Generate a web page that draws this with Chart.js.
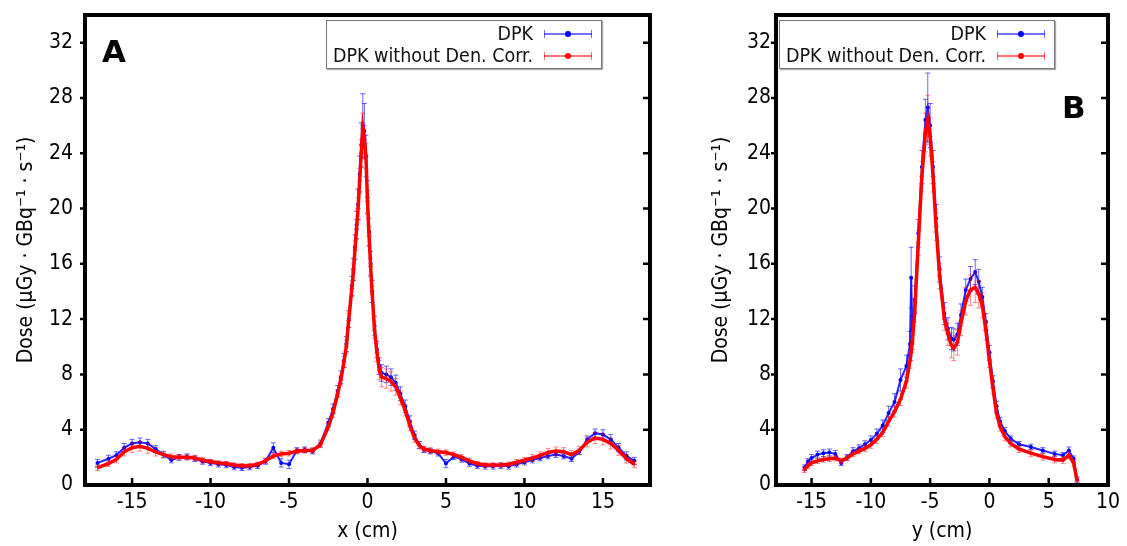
<!DOCTYPE html>
<html>
<head>
<meta charset="utf-8">
<script src="https://cdn.jsdelivr.net/npm/chart.js@4.4.1/dist/chart.umd.min.js"></script>
<style>
  body { margin: 0; background: #fff; }
  #wrap { position: relative; width: 1127px; height: 546px; overflow: hidden;
          font-family: "DejaVu Sans Condensed", "Liberation Sans", sans-serif; }
  canvas { position: absolute; top: 0; }
  .legend { position: absolute; top: 20px; width: 274px; height: 47px; background: #fff;
            border: 1px solid #777; box-shadow: 1px 1px 1px #aaa; font-size: 19.5px; color: #111; }
  .lab { position: absolute; right: 68px; height: 22px; line-height: 22px; white-space: nowrap; }
  .smp { position: absolute; left: 217px; width: 48px; height: 8px; }
  .smp .ln { position: absolute; left: 0; right: 0; top: 3px; height: 2px; }
  .smp .cap { position: absolute; top: 0; width: 1px; height: 8px; }
  .smp .dot { position: absolute; left: 21px; top: 1px; width: 6px; height: 6px; border-radius: 3px; }
  .letter { position: absolute; font-family: "DejaVu Sans", sans-serif; font-weight: bold;
            font-size: 31px; line-height: 31px; color: #000; }
</style>
</head>
<body>
<div id="wrap">
  <canvas id="chartA" width="680" height="546" style="left:0px"></canvas>
  <canvas id="chartB" width="437" height="546" style="left:690px"></canvas>
  <div class="letter" style="left:102px; top:36px">A</div>
  <div class="letter" style="left:1062px; top:92px">B</div>
  <div class="legend" id="legendA" style="left:326px"></div>
  <div class="legend" id="legendB" style="left:779px"></div>
</div>
<script>
// series names (legend order)
const seriesNames = ['DPK', 'DPK without Den. Corr.'];

// tick values
const xTicksA = [-15, -10, -5, 0, 5, 10, 15];
const xTicksB = [-15, -10, -5, 0, 5, 10];
const yTicks = [0, 4, 8, 12, 16, 20, 24, 28, 32];

// Panel A: dose profile along x (cm)
const xA = [-17.2, -16.5, -16, -15.5, -15, -14.5, -14, -13.5, -13, -12.5,
            -12, -11.5, -11, -10.5, -10, -9.5, -9, -8.5, -8, -7.5,
            -7, -6.5, -6, -5.5, -5, -4.5, -4, -3.5, -3, -2.5,
            -2.2, -1.9, -1.7, -1.5, -1.35, -1.2, -1, -0.9, -0.8, -0.7,
            -0.6, -0.5, -0.4, -0.3, -0.2, -0.1, 0, 0.1, 0.2, 0.3,
            0.45, 0.6, 0.75, 0.9, 1.2, 1.5, 1.8, 2.1, 2.4, 2.7,
            3.0, 3.3, 3.6, 4, 4.5, 5, 5.5, 6, 6.5, 7,
            7.5, 8, 8.5, 9, 9.5, 10, 10.5, 11, 11.5, 12,
            12.5, 13, 13.5, 14, 14.5, 15, 15.5, 16, 16.5, 17];
const dpkA = [1.6, 1.9, 2.15, 2.7, 3.0, 3.1, 3.0, 2.6, 2.2, 1.8,
              2.0, 2.05, 1.9, 1.7, 1.6, 1.5, 1.45, 1.3, 1.25, 1.3,
              1.4, 1.7, 2.7, 1.6, 1.5, 2.5, 2.55, 2.45, 3.0, 4.5,
              5.5, 6.8, 7.8, 9.0, 10.2, 12.0, 14.4, 15.6, 17.2, 18.8,
              20.3, 22.5, 24.6, 26.0, 25.6, 23.8, 20.8, 18.3, 16.0, 14.0,
              11.5, 9.8, 8.6, 8.1, 8.0, 7.8, 7.4, 6.6, 5.7, 4.6,
              3.6, 2.9, 2.55, 2.45, 2.3, 1.55, 2.05, 1.85, 1.55, 1.4,
              1.35, 1.35, 1.4, 1.35, 1.5, 1.65, 1.8, 1.95, 2.1, 2.2,
              2.1, 1.9, 2.4, 3.3, 3.75, 3.65, 3.3, 2.7, 2.1, 1.75];
const dpkErrA = [0.25, 0.25, 0.25, 0.3, 0.3, 0.3, 0.3, 0.25, 0.2, 0.2,
                 0.2, 0.2, 0.2, 0.2, 0.2, 0.2, 0.2, 0.2, 0.2, 0.2,
                 0.2, 0.2, 0.35, 0.3, 0.3, 0.2, 0.2, 0.2, 0.25, 0.3,
                 0.35, 0.4, 0.45, 0.5, 0.55, 0.6, 0.7, 0.8, 0.9, 1.0,
                 1.1, 1.3, 1.6, 2.3, 2.0, 1.5, 1.2, 1.0, 0.9, 0.8,
                 0.7, 0.6, 0.6, 0.6, 0.6, 0.6, 0.55, 0.5, 0.45, 0.4,
                 0.3, 0.25, 0.2, 0.2, 0.2, 0.3, 0.2, 0.2, 0.2, 0.2,
                 0.2, 0.2, 0.2, 0.2, 0.2, 0.2, 0.2, 0.2, 0.2, 0.2,
                 0.2, 0.2, 0.2, 0.25, 0.3, 0.35, 0.35, 0.3, 0.3, 0.25];
const noCorrA = [1.25, 1.55, 1.85, 2.4, 2.7, 2.8, 2.65, 2.4, 2.2, 2.05,
                 2.0, 2.0, 1.95, 1.8, 1.7, 1.6, 1.55, 1.45, 1.4, 1.4,
                 1.5, 1.75, 2.1, 2.25, 2.3, 2.45, 2.5, 2.5, 2.9, 4.2,
                 5.2, 6.6, 7.6, 8.9, 10.0, 11.9, 14.2, 15.4, 17.0, 18.5,
                 20.0, 22.0, 24.0, 25.8, 25.0, 23.8, 20.5, 18.0, 15.8, 13.8,
                 11.2, 9.6, 8.3, 7.8, 7.7, 7.5, 7.1, 6.3, 5.4, 4.3,
                 3.4, 2.85, 2.6, 2.5, 2.4, 2.35, 2.2, 2.0, 1.75, 1.55,
                 1.45, 1.45, 1.45, 1.5, 1.65, 1.8, 1.95, 2.15, 2.35, 2.45,
                 2.4, 2.2, 2.5, 3.1, 3.4, 3.3, 3.0, 2.5, 1.9, 1.5];
const noCorrErrA = [0.2, 0.2, 0.25, 0.3, 0.35, 0.35, 0.35, 0.3, 0.25, 0.2,
                    0.2, 0.2, 0.2, 0.2, 0.15, 0.15, 0.15, 0.15, 0.15, 0.15,
                    0.15, 0.2, 0.2, 0.2, 0.2, 0.2, 0.2, 0.2, 0.2, 0.25,
                    0.3, 0.3, 0.35, 0.4, 0.45, 0.5, 0.55, 0.6, 0.65, 0.7,
                    0.8, 0.9, 1.0, 1.1, 1.0, 0.9, 0.8, 0.7, 0.6, 0.6,
                    0.6, 0.65, 0.7, 0.7, 0.7, 0.7, 0.6, 0.5, 0.4, 0.35,
                    0.3, 0.25, 0.2, 0.2, 0.2, 0.2, 0.2, 0.2, 0.2, 0.15,
                    0.15, 0.15, 0.15, 0.15, 0.2, 0.2, 0.25, 0.25, 0.3, 0.3,
                    0.3, 0.3, 0.3, 0.35, 0.4, 0.4, 0.4, 0.35, 0.3, 0.25];

// Panel B: dose profile along y (cm)
const xB = [-15.6, -15.3, -15, -14.5, -14, -13.5, -13, -12.5, -12, -11.5,
            -11, -10.5, -10, -9.5, -9, -8.5, -8, -7.5, -7, -6.7,
            -6.6, -6.5, -6.3, -6, -5.7, -5.4, -5.2, -5.0, -4.75, -4.5,
            -4.2, -3.8, -3.5, -3.2, -3.0, -2.7, -2.4, -2.0, -1.6, -1.2,
            -0.9, -0.6, -0.3, 0, 0.3, 0.6, 0.9, 1.3, 1.8, 2.5,
            3.5, 4.5, 5.5, 6.2, 6.7, 7.1, 7.4];
const dpkB = [1.25, 1.7, 1.95, 2.2, 2.3, 2.35, 2.25, 1.6, 2.0, 2.45,
              2.65, 2.95, 3.25, 3.7, 4.3, 5.2, 6.0, 7.6, 8.6, 10.2,
              15.0, 11.2, 13.4, 18.2, 23.0, 26.4, 27.3, 26.0, 23.0, 19.3,
              15.6, 12.4, 11.3, 10.6, 10.5, 10.9, 12.3, 14.1, 14.9, 15.4,
              14.7, 13.6, 11.8, 9.6, 7.5, 5.7, 4.6, 3.9, 3.35, 2.95,
              2.75, 2.5, 2.25, 2.15, 2.5, 1.9, 0.4];
const dpkErrB = [0.2, 0.2, 0.25, 0.25, 0.25, 0.25, 0.25, 0.2, 0.2, 0.25,
                 0.25, 0.25, 0.3, 0.35, 0.4, 0.5, 0.6, 0.8, 0.8, 0.9,
                 2.2, 1.0, 1.0, 1.0, 1.2, 1.5, 2.5, 1.6, 1.2, 1.0,
                 0.9, 0.8, 0.8, 0.8, 0.8, 0.8, 0.8, 0.8, 0.9, 0.9,
                 0.9, 0.7, 0.6, 0.5, 0.4, 0.35, 0.3, 0.25, 0.2, 0.2,
                 0.2, 0.2, 0.2, 0.2, 0.25, 0.2, 0.2];
const noCorrB = [1.1, 1.4, 1.6, 1.75, 1.85, 1.9, 1.95, 1.75, 1.95, 2.25,
                 2.45, 2.65, 2.9, 3.3, 3.8, 4.6, 5.3, 6.2, 7.5, 9.0,
                 9.6, 10.4, 12.5, 17.5, 22.3, 25.5, 26.4, 25.2, 22.3, 18.7,
                 15.1, 12.0, 10.9, 10.1, 9.9, 10.3, 11.7, 13.3, 14.1, 14.3,
                 13.8, 13.0, 11.2, 9.0, 7.0, 5.2, 4.2, 3.5, 3.0, 2.6,
                 2.3, 2.05, 1.85, 1.8, 2.15, 1.6, 0.3];
const noCorrErrB = [0.2, 0.2, 0.2, 0.2, 0.2, 0.2, 0.2, 0.2, 0.2, 0.2,
                    0.2, 0.25, 0.25, 0.3, 0.3, 0.35, 0.4, 0.45, 0.5, 0.55,
                    0.6, 0.6, 0.7, 0.9, 1.1, 1.4, 1.8, 1.4, 1.1, 1.0,
                    0.9, 0.8, 0.8, 0.9, 0.9, 0.9, 0.9, 1.0, 1.1, 1.1,
                    1.0, 0.9, 0.7, 0.5, 0.4, 0.35, 0.3, 0.3, 0.25, 0.25,
                    0.25, 0.25, 0.25, 0.25, 0.25, 0.25, 0.2];

const blue = '#0000ff';
const red = '#ff0000';
const fontFam = '"DejaVu Sans Condensed", "Liberation Sans", sans-serif';
const yTitle = 'Dose (\u03bcGy \u00b7 GBq\u207b\u00b9 \u00b7 s\u207b\u00b9)';

// vertical error bars, drawn right after each line
const errorBars = {
  id: 'errorBars',
  afterDatasetDraw(chart, args) {
    const ds = chart.data.datasets[args.index];
    if (!ds.errors) return;
    const ctx = chart.ctx, y = chart.scales.y, a = chart.chartArea;
    ctx.save();
    ctx.beginPath();
    ctx.rect(a.left, a.top, a.right - a.left, a.bottom - a.top);
    ctx.clip();
    ctx.strokeStyle = ds.errColor;
    ctx.lineWidth = 1;
    ctx.beginPath();
    args.meta.data.forEach((pt, i) => {
      const v = ds.data[i].y, e = ds.errors[i];
      const top = y.getPixelForValue(v + e), bot = y.getPixelForValue(v - e);
      ctx.moveTo(pt.x, top); ctx.lineTo(pt.x, bot);
      ctx.moveTo(pt.x - 2.5, top); ctx.lineTo(pt.x + 2.5, top);
      ctx.moveTo(pt.x - 2.5, bot); ctx.lineTo(pt.x + 2.5, bot);
    });
    ctx.stroke();
    ctx.restore();
  }
};

// thick frame with small tick marks
const frame = {
  id: 'frame',
  afterDraw(chart) {
    const ctx = chart.ctx, a = chart.chartArea, x = chart.scales.x, y = chart.scales.y;
    ctx.save();
    ctx.strokeStyle = '#000';
    ctx.lineWidth = 4;
    ctx.strokeRect(a.left, a.top, a.right - a.left, a.bottom - a.top);
    ctx.lineWidth = 2.5;
    ctx.beginPath();
    x.ticks.forEach(t => {
      const px = x.getPixelForValue(t.value);
      if (px > a.left + 4 && px < a.right - 4) { ctx.moveTo(px, a.bottom); ctx.lineTo(px, a.bottom - 7); }
    });
    y.ticks.forEach(t => {
      const py = y.getPixelForValue(t.value);
      if (py < a.bottom - 4) {
        ctx.moveTo(a.left - 5, py); ctx.lineTo(a.left, py);
        ctx.moveTo(a.right, py); ctx.lineTo(a.right - 7, py);
      }
    });
    ctx.stroke();
    ctx.restore();
  }
};

function makePanel(id, xs, dpk, dpkErr, noCorr, noCorrErr, xTicks, opt) {
  const tickFont = { family: fontFam, size: 21 };
  new Chart(document.getElementById(id), {
    type: 'line',
    data: {
      datasets: [{
        label: seriesNames[1],
        data: xs.map((x, i) => ({ x: x, y: noCorr[i] })),
        errors: noCorrErr,
        errColor: 'rgba(255,0,0,0.45)',
        borderColor: red,
        borderWidth: 3.5,
        pointStyle: 'cross',
        pointRadius: 2.5,
        pointBorderColor: 'rgba(255,0,0,0.7)',
        pointBorderWidth: 1,
        order: 0
      }, {
        label: seriesNames[0],
        data: xs.map((x, i) => ({ x: x, y: dpk[i] })),
        errors: dpkErr,
        errColor: 'rgba(0,0,255,0.6)',
        borderColor: 'rgba(0,0,255,0.85)',
        borderWidth: 2,
        pointRadius: 2,
        pointBackgroundColor: blue,
        pointBorderColor: blue,
        pointBorderWidth: 0,
        order: 1
      }]
    },
    options: {
      responsive: false,
      animation: false,
      layout: { padding: { top: 15, right: opt.rightPad, left: 0, bottom: 0 } },
      plugins: { legend: { display: false }, tooltip: { enabled: false } },
      scales: {
        x: {
          type: 'linear', min: opt.xMin, max: opt.xMax,
          grid: { display: false, drawTicks: false },
          border: { display: false },
          ticks: { font: tickFont, color: '#000', padding: 5, maxRotation: 0, autoSkip: false },
          afterBuildTicks: s => { s.ticks = xTicks.map(v => ({ value: v })); },
          afterFit: s => { s.height = 61; s.paddingLeft = 0; s.paddingRight = 0; },
          title: { display: true, text: opt.xTitle, font: tickFont, color: '#000', padding: { top: 0, bottom: 2 } }
        },
        y: {
          type: 'linear', min: 0, max: 34,
          grid: { display: false, drawTicks: false },
          border: { display: false },
          ticks: { font: tickFont, color: '#000', padding: opt.yTickPad },
          afterBuildTicks: s => { s.ticks = yTicks.map(v => ({ value: v })); },
          afterFit: s => { s.width = opt.yWidth; s.paddingTop = 0; s.paddingBottom = 0; },
          title: { display: true, text: yTitle, font: tickFont, color: '#000', padding: { top: opt.yTitlePad, bottom: 0 } }
        }
      }
    },
    plugins: [errorBars, frame]
  });
}

function makeLegend(id) {
  const box = document.getElementById(id);
  const rows = [
    { name: seriesNames[0], line: 'rgba(0,0,255,0.55)', dot: blue, top: 2 },
    { name: seriesNames[1], line: 'rgba(255,0,0,0.55)', dot: red, top: 24 }
  ];
  rows.forEach(r => {
    const lab = document.createElement('div');
    lab.className = 'lab';
    lab.style.top = r.top + 'px';
    lab.textContent = r.name;
    box.appendChild(lab);
    const smp = document.createElement('div');
    smp.className = 'smp';
    smp.style.top = (r.top + 7) + 'px';
    smp.innerHTML = '<div class="ln" style="background:' + r.line + '"></div>' +
      '<div class="cap" style="left:0;background:' + r.line + '"></div>' +
      '<div class="cap" style="right:0;background:' + r.line + '"></div>' +
      '<div class="dot" style="background:' + r.dot + '"></div>';
    box.appendChild(smp);
  });
}

makePanel('chartA', xA, dpkA, dpkErrA, noCorrA, noCorrErrA, xTicksA,
  { xMin: -18, xMax: 18, xTitle: 'x (cm)', rightPad: 30, yWidth: 85, yTickPad: 12, yTitlePad: 14 });
makePanel('chartB', xB, dpkB, dpkErrB, noCorrB, noCorrErrB, xTicksB,
  { xMin: -18, xMax: 10, xTitle: 'y (cm)', rightPad: 19, yWidth: 86, yTickPad: 5, yTitlePad: 19 });
makeLegend('legendA');
makeLegend('legendB');
</script>
</body>
</html>
